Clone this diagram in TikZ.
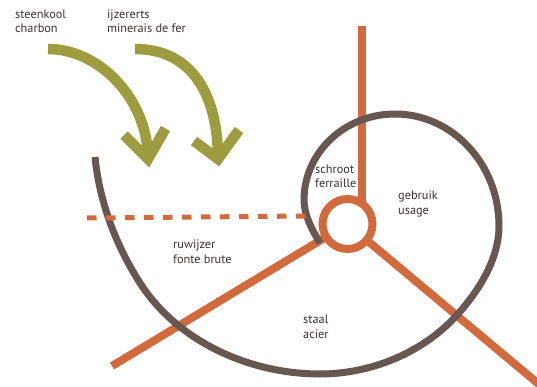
\documentclass[tikz,border=0pt]{standalone}
\usepackage{fontspec}
\setmainfont{PT Sans}
\definecolor{spiralbrown}{RGB}{104,86,81}
\definecolor{routeorange}{RGB}{209,106,61}
\definecolor{feedolive}{RGB}{157,156,62}
\definecolor{labelgray}{RGB}{55,50,50}
\begin{document}
\begin{tikzpicture}[x=1pt,y=-1pt,
  lbl/.style={anchor=base west, align=left, inner sep=0pt,
    font=\fontsize{12.3}{14.5}\selectfont, text=labelgray},
  route/.style={draw=routeorange, line width=8pt, line cap=butt},
  dashroute/.style={draw=routeorange, line width=5pt, dash pattern=on 9.5pt off 9.5pt},
  cycle/.style={draw=spiralbrown, line width=7pt, line cap=butt},
  feed/.style={draw=feedolive, line width=10.5pt, line cap=butt, line join=miter},
  hub/.style={circle, draw=routeorange, line width=8pt, fill=white,
    minimum size=50pt, inner sep=0pt}]
\useasboundingbox (0,0) rectangle (537,387);

% end points of the orange routes
\coordinate (hubc) at (347.5,224);
\coordinate (topend) at (362,26);
\coordinate (topfoot) at (362,224);
\coordinate (llend) at (112,366);
\coordinate (lrend) at (541,386);
\coordinate (dashl) at (87,218);
\coordinate (dashr) at (307,216);

% orange routes radiating from the hub
\draw[route] (topend) -- (topfoot);
\draw[route] (hubc) -- (llend);
\draw[route] (hubc) -- (lrend);
\node[hub] (hub) at (hubc) {};

% the brown spiral, winding inwards towards the hub
\draw[cycle] (95,157)
  .. controls (99.5,202) and (115.7,245) .. (140,283)
  .. controls (177.8,341.8) and (250,374) .. (320,374)
  .. controls (371,374) and (423,352.7) .. (457,315)
  .. controls (479,290.6) and (499,259) .. (499,226)
  .. controls (499,164.2) and (452.4,114) .. (395,114)
  .. controls (344.8,114) and (304,152.5) .. (304,200)
  .. controls (304,215) and (312.2,230.3) .. (320,243);

% dashed route
\draw[dashroute] (dashl) -- (dashr);

% olive input arrows
\coordinate (a1s) at (48,49);
\coordinate (a1t) at (148,159);
\coordinate (a1l) at (124,135);
\coordinate (a1r) at (165.5,128.5);
\draw[feed] (a1s) .. controls (100,49) and (148,100) .. (a1t);
\draw[feed] (a1l) -- (a1t) -- (a1r);

\coordinate (a2s) at (135,49);
\coordinate (a2t) at (218,159);
\coordinate (a2l) at (194,141);
\coordinate (a2r) at (239,130);
\draw[feed] (a2s) .. controls (192,49) and (218,95) .. (a2t);
\draw[feed] (a2l) -- (a2t) -- (a2r);

% labels (placed by the baseline of their second line)
\node[lbl] (coal) at (15,33) {steenkool\\charbon};
\node[lbl] (ore) at (107,33) {ijzererts\\minerais de fer};
\node[lbl] (scrap) at (315,188) {schroot\\ferraille};
\node[lbl] (use) at (398,214) {gebruik\\usage};
\node[lbl] (pig) at (173,263) {ruwijzer\\fonte brute};
\node[lbl] (steel) at (303,338) {staal\\acier};
\end{tikzpicture}
\end{document}
